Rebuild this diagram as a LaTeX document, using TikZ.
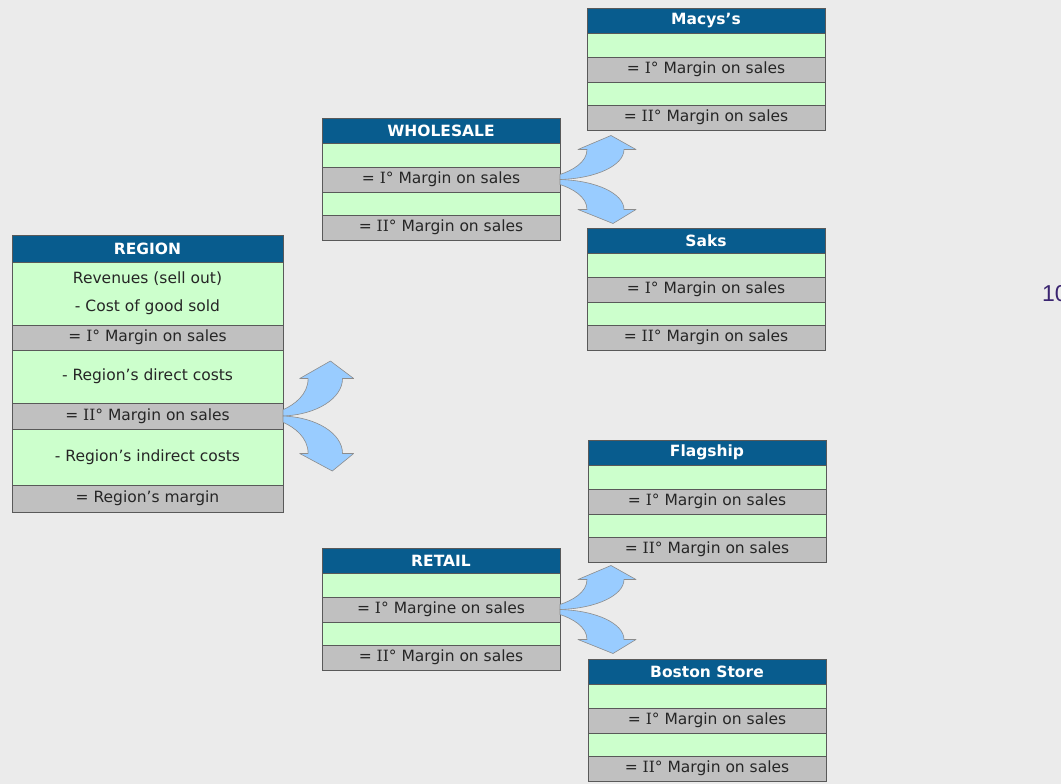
\documentclass[tikz,border=0pt]{standalone}
\usepackage{fontspec}
\setmainfont{DejaVu Sans}
\newfontfamily\romfont{DejaVu Serif}
\newfontfamily\numfont{Liberation Sans}
\usetikzlibrary{positioning}
\definecolor{hdrblue}{RGB}{8,92,142}
\definecolor{rowgreen}{RGB}{204,255,204}
\definecolor{rowgray}{RGB}{192,192,192}
\definecolor{arrblue}{RGB}{153,204,255}
\definecolor{pagegray}{RGB}{235,235,235}
\definecolor{numpurple}{RGB}{58,36,112}
\newcommand{\Ia}{{\romfont I}°}
\newcommand{\IIa}{{\romfont II}°}

\tikzset{
  cell/.style={draw=black!65, line width=0.7pt, anchor=north west, inner sep=0pt, outer sep=0pt,
    minimum width=238pt, text=black!85, font=\fontsize{15.5}{19}\selectfont},
  hdr/.style={cell, fill=hdrblue, text=white, font=\fontsize{15.5}{19}\selectfont\bfseries},
  grn/.style={cell, fill=rowgreen},
  gry/.style={cell, fill=rowgray},
  arr/.style={fill=arrblue, draw=black!45, line width=0.6pt, line join=round},
}

% box of one channel: name, x, y, title, first margin
\newcommand{\salesbox}[5]{%
  \node[hdr, minimum height=25pt] (#1) at (#2,#3) {#4};
  \node[grn, minimum height=24pt] (#1-a) at (#1.south west) {};
  \node[gry, minimum height=25pt] (#1-b) at (#1-a.south west) {#5};
  \node[grn, minimum height=23pt] (#1-c) at (#1-b.south west) {};
  \node[gry, minimum height=25pt] (#1-d) at (#1-c.south west) {= \IIa{} Margin on sales};
}

% two curved block arrows: origin, xscale, yscale
\newcommand{\forkarrow}[3]{%
  \begin{scope}[shift={(#1)}, xscale=#2, yscale=#3]
    \filldraw[arr] (0,-5) .. controls (12,-9) and (27,-17) .. (27,-30) -- (18,-30) -- (51,-44)
      -- (76,-30) -- (64,-30) .. controls (64,-14) and (36,-1) .. (0,0) -- cycle;
    \filldraw[arr] (0,0) .. controls (36,1) and (64,14) .. (64,30) -- (76,30) -- (53,44)
      -- (18,30) -- (27,30) .. controls (27,17) and (12,9) .. (0,5) -- cycle;
  \end{scope}}

\begin{document}
\begin{tikzpicture}[x=1pt, y=-1pt]
\clip (0,0) rectangle (1061,784);
\fill[pagegray] (0,0) rectangle (1061,784);

% Region
\node[hdr, minimum width=271pt, minimum height=27pt] (reg) at (12,235) {REGION};
\node[grn, minimum width=271pt, minimum height=63pt, align=center] (reg-a) at (reg.south west)
  {Revenues (sell out)\\[9pt]- Cost of good sold};
\node[gry, minimum width=271pt, minimum height=25pt] (reg-b) at (reg-a.south west) {= \Ia{} Margin on sales};
\node[grn, minimum width=271pt, minimum height=53pt] (reg-c) at (reg-b.south west) {- Region’s direct costs};
\node[gry, minimum width=271pt, minimum height=26pt] (reg-d) at (reg-c.south west) {= \IIa{} Margin on sales};
\node[grn, minimum width=271pt, minimum height=56pt] (reg-e) at (reg-d.south west) {- Region’s indirect costs};
\node[gry, minimum width=271pt, minimum height=27pt] (reg-f) at (reg-e.south west) {= Region’s margin};

% Channels
\salesbox{ws}{322}{118}{WHOLESALE}{= \Ia{} Margin on sales}
\salesbox{rt}{322}{548}{RETAIL}{= \Ia{} Margine on sales}

% Customers
\salesbox{mac}{587}{8}{Macys’s}{= \Ia{} Margin on sales}
\salesbox{saks}{587}{228}{Saks}{= \Ia{} Margin on sales}
\salesbox{flag}{588}{440}{Flagship}{= \Ia{} Margin on sales}
\salesbox{bos}{588}{659}{Boston Store}{= \Ia{} Margin on sales}

% Arrows
\forkarrow{reg-d.east}{0.93}{1.25}
\forkarrow{ws-b.east}{1}{1}
\forkarrow{rt-b.east}{1}{1}

\node[font=\numfont\fontsize{23}{23}\selectfont, text=numpurple, anchor=west, inner sep=0pt] (pg) at (1042,294) {10};
\end{tikzpicture}
\end{document}
